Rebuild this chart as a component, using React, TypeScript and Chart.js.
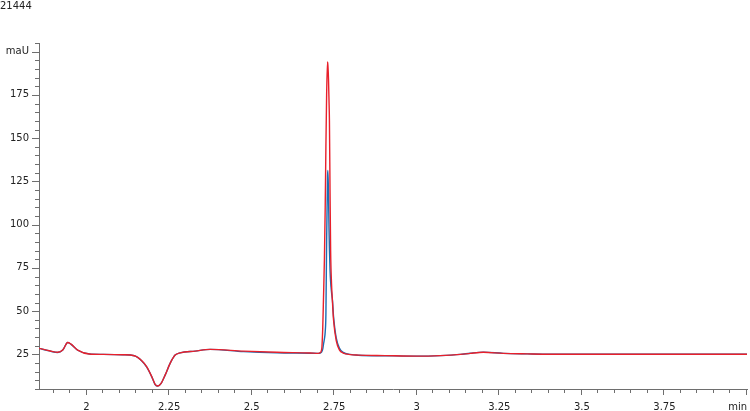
import React, { useEffect, useRef } from 'react';
import { Chart, registerables } from 'chart.js';

Chart.register(...registerables);

const SAMPLE_ID = '21444';
const Y_UNIT = 'maU';
const X_UNIT = 'min';

// retention time (min)
const times = [
  1.856, 1.8873, 1.9127, 1.9279, 1.943, 1.953, 1.9733, 2.0085, 2.0491, 2.1097,
  2.1448, 2.1673, 2.1824, 2.1976, 2.2076, 2.2158, 2.2258, 2.2379, 2.253, 2.2682,
  2.2833, 2.3288, 2.3742, 2.4752, 2.5764, 2.6773, 2.7015, 2.7076, 2.7121, 2.7152,
  2.7176, 2.7203, 2.7227, 2.7248, 2.727, 2.7297, 2.7309, 2.7327, 2.7342, 2.7355,
  2.7373, 2.7391, 2.7418, 2.7448, 2.7479, 2.7561, 2.7661, 2.7773, 2.7985, 2.8227,
  2.9045, 3.0006, 3.0712, 3.1318, 3.1621, 3.2015, 3.2621, 3.3339, 3.4045, 3.5561,
  3.7076, 3.8591, 4.0,
];

// red trace (mAU)
const signalRed = [
  28.5, 27.1, 26.2, 27.5, 31.9, 30.9, 27.5, 25.2, 25.0, 24.8,
  24.2, 21.3, 17.8, 12.1, 7.7, 6.7, 8.3, 13.0, 19.8, 24.6,
  25.9, 26.9, 27.9, 26.9, 26.2, 25.8, 25.6, 26.0, 28.0, 40.0,
  58.0, 80.0, 110.0, 145.0, 175.0, 194.0, 192.0, 184.0, 172.0, 160.0,
  120.0, 85.0, 66.0, 55.0, 45.0, 33.0, 27.5, 25.8, 24.9, 24.6,
  24.3, 24.0, 24.3, 25.0, 25.6, 26.2, 25.6, 25.3, 25.1, 25.1,
  25.1, 25.1, 25.1,
];

// blue trace (mAU)
const signalBlue = [
  28.5, 27.0, 26.1, 27.5, 31.9, 30.8, 27.4, 25.2, 25.0, 24.8,
  24.2, 21.2, 17.6, 12.0, 7.6, 6.7, 8.3, 13.0, 19.8, 24.6,
  25.9, 26.9, 27.9, 26.6, 25.9, 25.7, 25.6, 25.8, 26.5, 28.0,
  31.0, 34.0, 38.0, 48.0, 90.0, 128.0, 131.4, 118.0, 98.0, 86.0,
  74.0, 67.0, 61.0, 56.0, 47.0, 34.5, 28.5, 26.2, 25.0, 24.5,
  24.2, 24.0, 24.3, 25.0, 25.7, 26.3, 25.6, 25.3, 25.1, 25.1,
  25.1, 25.1, 25.1,
];

const xLabelTicks = [2, 2.25, 2.5, 2.75, 3, 3.25, 3.5, 3.75];
const yLabelTicks = [25, 50, 75, 100, 125, 150, 175, 200];

// minor tick marks every 0.05 min / 5 mAU
const xMarks = Array.from({ length: 43 }, (_, i) => Math.round((1.9 + i * 0.05) * 100) / 100);
const yMarks = Array.from({ length: 41 }, (_, i) => 5 + i * 5);

const RED = '#e8202b';
const BLUE = '#1b6eb4';
const AXIS = '#6e6e6e';
const TEXT = '#222222';
const FONT = 'DejaVu Sans';

const isStep = (v: number, step: number) => Math.abs(v / step - Math.round(v / step)) < 1e-6;

// draws the short/long tick marks outside the plot
const tickMarks = {
  id: 'tickMarks',
  afterDraw(chart: Chart) {
    const { ctx } = chart;
    const x = chart.scales.x;
    const y = chart.scales.y;
    ctx.save();
    ctx.strokeStyle = AXIS;
    ctx.lineWidth = 1;
    ctx.beginPath();
    xMarks.forEach(v => {
      const px = Math.round(x.getPixelForValue(v)) - 0.5;
      const len = isStep(v, 0.25) ? 6 : 4;
      ctx.moveTo(px, x.top);
      ctx.lineTo(px, x.top + len);
    });
    yMarks.forEach(v => {
      const py = Math.round(y.getPixelForValue(v)) + 0.5;
      const len = isStep(v, 25) ? 7 : 4;
      ctx.moveTo(y.right, py);
      ctx.lineTo(y.right - len, py);
    });
    ctx.stroke();
    ctx.restore();
  },
};

const App: React.FC = () => {
  const canvasRef = useRef<HTMLCanvasElement>(null);
  const chartRef = useRef<Chart | null>(null);

  useEffect(() => {
    if (!canvasRef.current) return;
    if (chartRef.current) chartRef.current.destroy();

    chartRef.current = new Chart(canvasRef.current, {
      type: 'line',
      data: {
        datasets: [
          {
            label: 'red',
            data: times.map((t, i) => ({ x: t, y: signalRed[i] })),
            borderColor: RED,
            borderWidth: 1.4,
            pointRadius: 0,
            cubicInterpolationMode: 'monotone',
          },
          {
            label: 'blue',
            data: times.map((t, i) => ({ x: t, y: signalBlue[i] })),
            borderColor: BLUE,
            borderWidth: 1.4,
            pointRadius: 0,
            cubicInterpolationMode: 'monotone',
          },
        ],
      },
      options: {
        animation: false,
        responsive: true,
        maintainAspectRatio: false,
        layout: { padding: { left: 0, right: 3, top: 0, bottom: 0 } },
        plugins: {
          legend: { display: false },
          tooltip: { enabled: false },
          title: {
            display: true,
            text: SAMPLE_ID,
            align: 'start',
            color: TEXT,
            font: { family: FONT, size: 10, weight: 'normal' },
            padding: { top: 0, bottom: 31 },
          },
        },
        scales: {
          x: {
            type: 'linear',
            min: 1.856,
            max: 4.0,
            border: { display: true, color: AXIS, width: 1 },
            grid: { display: true, drawOnChartArea: false, tickLength: 6, tickColor: 'rgba(0,0,0,0)' },
            afterBuildTicks: (scale: any) => {
              scale.ticks = xLabelTicks.map(v => ({ value: v }));
            },
            ticks: {
              autoSkip: false,
              maxRotation: 0,
              padding: 6,
              color: TEXT,
              font: { family: FONT, size: 10 },
              callback: (v: any) => String(Number(v)),
            },
            title: {
              display: true,
              text: X_UNIT,
              align: 'end',
              color: TEXT,
              font: { family: FONT, size: 10 },
              padding: { top: 0, bottom: -2 },
            },
            afterFit: (scale: any) => {
              scale.height = 22;
              scale.paddingLeft = 0;
              scale.paddingRight = 0;
            },
          },
          y: {
            min: 5,
            max: 205,
            border: { display: true, color: AXIS, width: 1 },
            grid: { display: true, drawOnChartArea: false, tickLength: 7, tickColor: 'rgba(0,0,0,0)' },
            afterBuildTicks: (scale: any) => {
              scale.ticks = yLabelTicks.map(v => ({ value: v }));
            },
            ticks: {
              autoSkip: false,
              padding: 3,
              color: TEXT,
              font: { family: FONT, size: 10 },
              callback: (v: any) => (Number(v) === 200 ? Y_UNIT : String(v)),
            },
            afterFit: (scale: any) => {
              scale.width = 39;
              scale.paddingTop = 0;
              scale.paddingBottom = 0;
            },
          },
        },
      },
      plugins: [tickMarks],
    });

    return () => {
      if (chartRef.current) {
        chartRef.current.destroy();
        chartRef.current = null;
      }
    };
  }, []);

  return (
    <div style={{ position: 'absolute', left: 0, top: 0, width: 750, height: 411, background: '#fff' }}>
      <canvas ref={canvasRef}></canvas>
    </div>
  );
};

export default App;
